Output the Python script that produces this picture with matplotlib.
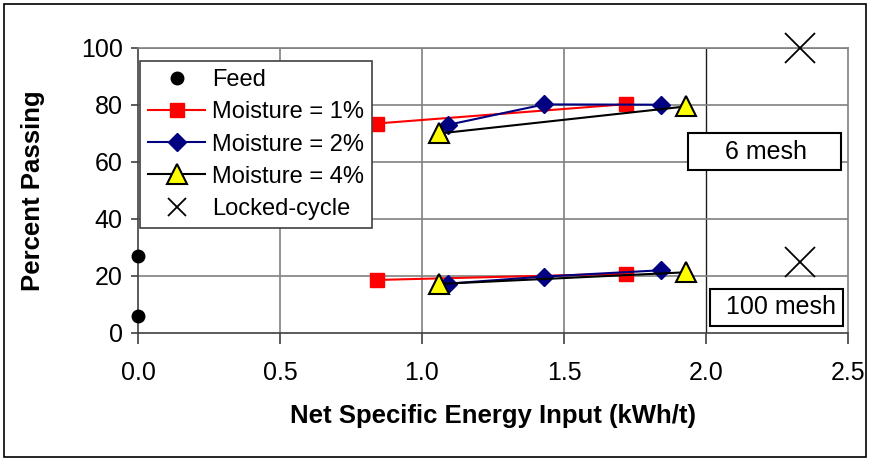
import numpy as np
import matplotlib.pyplot as plt
from matplotlib.patches import Rectangle

plt.rcParams['font.family'] = ['Liberation Sans', 'DejaVu Sans']

# data
feed_x = [0.0, 0.0]
feed_y = [27, 6]

m1_x = [0.84, 1.72]
m1_6 = [73.5, 80.3]
m1_100 = [18.6, 20.8]

m2_x = [1.09, 1.43, 1.84]
m2_6 = [73, 80.2, 80.1]
m2_100 = [17.3, 19.8, 22]

m4_x = [1.06, 1.93]
m4_6 = [70, 79.5]
m4_100 = [17.2, 21.3]

lc_x = [2.33, 2.33]
lc_y = [100, 25]

fig = plt.figure(figsize=(8.7, 4.61), dpi=100)
fig.patches.append(Rectangle((0.005, 0.008), 0.99, 0.984, transform=fig.transFigure,
                             fill=False, edgecolor='black', linewidth=1.2))
ax = fig.add_axes([0.1586, 0.2777, 0.8161, 0.6182])

ax.set_xlim(0, 2.5)
ax.set_ylim(0, 100)
ax.set_xticks(np.arange(0, 2.51, 0.5))
ax.set_yticks(np.arange(0, 101, 20))
ax.set_xticklabels(['%.1f' % v for v in np.arange(0, 2.51, 0.5)])

for v in [0.5, 1.0, 1.5]:
    ax.axvline(v, color='#808080', lw=1.2, zorder=0)
ax.axvline(2.0, color='#202020', lw=1.0, zorder=0)
for v in [20, 40, 60, 80, 100]:
    ax.axhline(v, color='#808080', lw=1.2, zorder=0)

for s in ['top', 'right']:
    ax.spines[s].set_color('#808080')
    ax.spines[s].set_linewidth(1.2)
for s in ['left', 'bottom']:
    ax.spines[s].set_color('#404040')
    ax.spines[s].set_linewidth(1.2)

ax.plot(feed_x, feed_y, 'o', color='black', ms=9, clip_on=False, zorder=5, label='Feed')

ax.plot(m1_x, m1_6, '-s', color='red', mfc='red', mec='red', ms=10, lw=1.5,
        zorder=4, label='Moisture = 1%')
ax.plot(m1_x, m1_100, '-s', color='red', mfc='red', mec='red', ms=10, lw=1.5, zorder=4)

ax.plot(m2_x, m2_6, '-D', color='#000080', mfc='#000080', mec='#000080', ms=9.5, lw=1.5,
        zorder=4, label='Moisture = 2%')
ax.plot(m2_x, m2_100, '-D', color='#000080', mfc='#000080', mec='#000080', ms=9.5, lw=1.5, zorder=4)

ax.plot(m4_x, m4_6, '-^', color='black', mfc='yellow', mec='black', mew=1.5, ms=14, lw=1.5,
        zorder=4, label='Moisture = 4%')
ax.plot(m4_x, m4_100, '-^', color='black', mfc='yellow', mec='black', mew=1.5, ms=14, lw=1.5, zorder=4)

ax.plot(lc_x, lc_y, 'x', color='black', ms=21, mew=1.3, clip_on=False, zorder=5,
        label='Locked-cycle')

ax.tick_params(axis='both', labelsize=18, direction='out', color='#404040', width=1.2)
ax.tick_params(axis='x', length=8, pad=12)
ax.tick_params(axis='y', length=5, pad=6)

ax.set_xlabel('Net Specific Energy Input (kWh/t)', fontsize=18.5, fontweight='bold', labelpad=14)
ax.set_ylabel('Percent Passing', fontsize=18.5, fontweight='bold', labelpad=26)

leg = ax.legend(loc='upper left', bbox_to_anchor=(140 / 870, 1 - 61 / 461),
                bbox_transform=fig.transFigure, fontsize=17, frameon=True, fancybox=False,
                edgecolor='#404040', framealpha=1, borderpad=0.35, labelspacing=0.43,
                handlelength=2.4, handletextpad=0.3, borderaxespad=0)
leg.get_frame().set_linewidth(1.2)
leg.legend_handles[4].set_markersize(13)

ax.add_patch(Rectangle((1.937, 57.2), 0.538, 13.0, fc='white', ec='black', lw=1.5, zorder=6))
ax.text(2.21, 63.5, '6 mesh', fontsize=18, ha='center', va='center', zorder=7)
ax.add_patch(Rectangle((2.014, 2.5), 0.468, 12.9, fc='white', ec='black', lw=1.5, zorder=6))
ax.text(2.264, 9.0, '100 mesh', fontsize=18, ha='center', va='center', zorder=7)

fig.savefig('out.png', dpi=100)
